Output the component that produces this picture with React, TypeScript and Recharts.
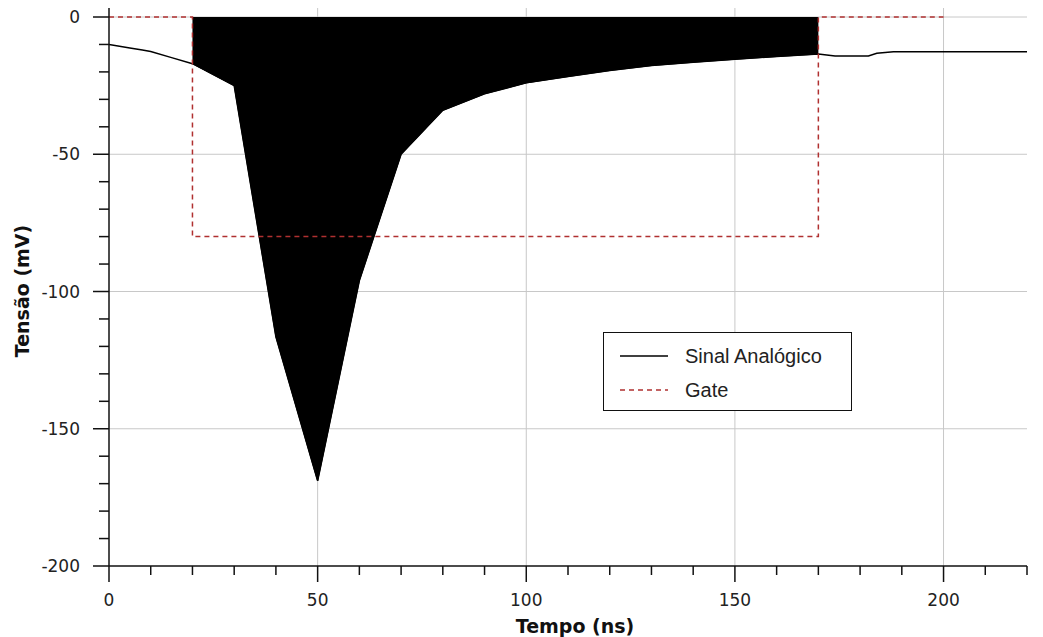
import React from 'react';
import { ComposedChart, Line, Area, XAxis, YAxis, CartesianGrid } from 'recharts';

// Signal samples (time in ns, voltage in mV)
const timeNs = [0, 5, 8, 10, 15, 20, 30, 40, 50, 60, 70, 80, 90, 100, 110, 120, 130, 140, 150, 160, 170, 174, 182, 184, 188, 220];
const signalMv = [-10, -11.3, -12, -12.6, -14.8, -17, -25, -116.5, -169, -96, -50, -34, -28, -24, -21.7, -19.5, -17.7, -16.5, -15.4, -14.4, -13.5, -14.2, -14.2, -13.2, -12.7, -12.7];

// Gate window
const gateTimeNs = [0, 20, 20, 170, 170, 200];
const gateMv = [0, 0, -80, -80, 0, 0];
const gateStart = 20;
const gateEnd = 170;

// Axis ticks
const xTicks = [0, 10, 20, 30, 40, 50, 60, 70, 80, 90, 100, 110, 120, 130, 140, 150, 160, 170, 180, 190, 200, 210, 220];
const xMajor = [0, 50, 100, 150, 200];
const yTicks = [-200, -190, -180, -170, -160, -150, -140, -130, -120, -110, -100, -90, -80, -70, -60, -50, -40, -30, -20, -10, 0];
const yMajor = [-200, -150, -100, -50, 0];
const xGrid = [50, 100, 150, 200];
const yGrid = [0, -50, -100, -150];

const signalData = timeNs.map((t, i) => ({ t, v: signalMv[i] }));
const fillData = signalData.filter((d) => d.t >= gateStart && d.t <= gateEnd);
const gateData = gateTimeNs.map((t, i) => ({ t, g: gateMv[i] }));

const legendItems = [
  { name: 'Sinal Analógico', color: '#000000', dash: undefined as string | undefined },
  { name: 'Gate', color: '#b03030', dash: '5 4' },
];

const XTick = (props: any) => {
  const { x, y, payload } = props;
  const major = xMajor.includes(payload.value);
  return (
    <g>
      <line x1={x} x2={x} y1={y} y2={y + (major ? 16 : 9)} stroke="#111" strokeWidth={1.5} />
      {major && (
        <text x={x} y={y + 40} textAnchor="middle" fontSize={17} fontFamily="DejaVu Sans" fill="#222">
          {payload.value}
        </text>
      )}
    </g>
  );
};

const YTick = (props: any) => {
  const { x, y, payload } = props;
  const major = yMajor.includes(payload.value);
  return (
    <g>
      <line x1={x - (major ? 16 : 10)} x2={x} y1={y} y2={y} stroke="#111" strokeWidth={1.5} />
      {major && (
        <text x={x - 29} y={y + 6} textAnchor="end" fontSize={17} fontFamily="DejaVu Sans" fill="#222">
          {payload.value}
        </text>
      )}
    </g>
  );
};

export default function App() {
  return (
    <div style={{ position: 'relative', width: 1035, height: 629, background: '#fff' }}>
      <ComposedChart width={1035} height={629} margin={{ top: 0, right: 16, bottom: 0, left: 0 }}>
        <CartesianGrid stroke="#c8c8c8" strokeWidth={1} verticalValues={xGrid} horizontalValues={yGrid} />
        <XAxis
          type="number"
          dataKey="t"
          domain={[0, 220]}
          ticks={xTicks}
          interval={0}
          height={71}
          tickSize={0}
          tickMargin={0}
          tickLine={false}
          tick={<XTick />}
          axisLine={{ stroke: '#111', strokeWidth: 1.5 }}
          allowDataOverflow
        />
        <YAxis
          type="number"
          domain={[-200, 3.28]}
          ticks={yTicks}
          interval={0}
          width={101}
          tickSize={0}
          tickMargin={0}
          tickLine={false}
          tick={<YTick />}
          axisLine={{ stroke: '#111', strokeWidth: 1.5 }}
          allowDataOverflow
        />
        <Area
          data={fillData}
          dataKey="v"
          type="linear"
          baseValue={0}
          stroke="#000"
          strokeWidth={1}
          fill="#000"
          fillOpacity={1}
          dot={false}
          activeDot={false}
          isAnimationActive={false}
        />
        <Line
          data={signalData}
          dataKey="v"
          type="linear"
          stroke="#000"
          strokeWidth={1.5}
          dot={false}
          activeDot={false}
          isAnimationActive={false}
        />
        <Line
          data={gateData}
          dataKey="g"
          type="linear"
          stroke="#b03030"
          strokeWidth={1.5}
          strokeDasharray="5 4"
          dot={false}
          activeDot={false}
          isAnimationActive={false}
        />
      </ComposedChart>

      <div
        style={{
          position: 'absolute',
          left: 567,
          top: 609,
          transform: 'translateX(-50%)',
          fontFamily: 'DejaVu Sans',
          fontWeight: 'bold',
          fontSize: 19,
          lineHeight: '19px',
          whiteSpace: 'nowrap',
          color: '#111',
        }}
      >
        Tempo (ns)
      </div>
      <div
        style={{
          position: 'absolute',
          left: 13.5,
          top: 283,
          transform: 'translate(-50%, -50%) rotate(-90deg)',
          fontFamily: 'DejaVu Sans',
          fontWeight: 'bold',
          fontSize: 19,
          lineHeight: '19px',
          whiteSpace: 'nowrap',
          color: '#111',
        }}
      >
        Tensão (mV)
      </div>

      <div
        style={{
          position: 'absolute',
          left: 595,
          top: 324,
          width: 249,
          height: 79,
          boxSizing: 'border-box',
          border: '1.5px solid #111',
          background: '#fff',
        }}
      >
        {legendItems.map((it, i) => (
          <div key={it.name} style={{ position: 'absolute', left: 0, top: 10 + i * 34, height: 26, width: 245 }}>
            <svg width={70} height={26} style={{ position: 'absolute', left: 0, top: 0 }}>
              <line x1={16} x2={64} y1={13} y2={13} stroke={it.color} strokeWidth={1.5} strokeDasharray={it.dash} />
            </svg>
            <span
              style={{
                position: 'absolute',
                left: 81,
                top: 0,
                fontFamily: 'Liberation Sans',
                fontSize: 20,
                lineHeight: '26px',
                color: '#222',
                whiteSpace: 'nowrap',
              }}
            >
              {it.name}
            </span>
          </div>
        ))}
      </div>
    </div>
  );
}
